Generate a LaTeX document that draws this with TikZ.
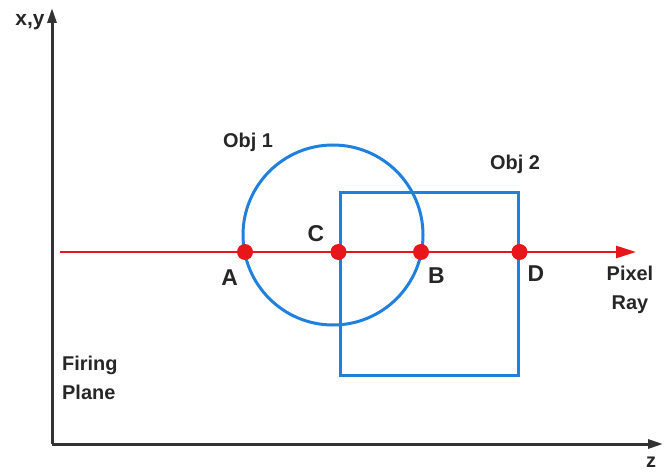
\documentclass[tikz,border=0pt]{standalone}
\usepackage{fontspec}
\setmainfont{Liberation Sans}
\usetikzlibrary{arrows.meta,positioning}

\definecolor{rayred}{RGB}{232,22,26}
\definecolor{objblue}{RGB}{32,128,222}

\begin{document}
\begin{tikzpicture}[
    x=1bp, y=-1bp,
    lbl/.style={font=\fontsize{20}{29}\selectfont\bfseries, text=black!85, align=left, inner sep=0pt},
    ptlbl/.style={font=\fontsize{23}{24}\selectfont\bfseries, text=black!85, inner sep=0pt},
    hit/.style={circle, fill=rayred, inner sep=0pt, minimum size=16bp},
    axis/.style={line width=3bp, draw=black!80, -{Triangle[length=15bp,width=9bp]}},
    ray/.style={line width=2.6bp, draw=rayred, -{Triangle[length=20bp,width=12bp]}},
    obj/.style={line width=3bp, draw=objblue, inner sep=0pt},
]
\useasboundingbox (0,0) rectangle (664,472);

% Axes
\coordinate (o) at (52,444);
\coordinate (ytip) at (52,8);
\coordinate (ztip) at (663,444);
\draw[axis] (o) -- (ytip);
\draw[axis] (o) -- (ztip);
\node[ptlbl, font=\fontsize{21}{24}\selectfont\bfseries] (xy) at (30,22) {x,y};
\node[ptlbl, font=\fontsize{20}{24}\selectfont\bfseries] (z) at (651,462) {z};

% Objects
\node[obj, circle, minimum size=180bp] (obj1) at (333,235) {};
\node[obj, rectangle, minimum width=178bp, minimum height=182bp] (obj2) at (429,284) {};
\node[lbl] (obj1lbl) at (248,142) {Obj 1};
\node[lbl] (obj2lbl) at (515,164) {Obj 2};

% Pixel ray
\coordinate (rs) at (60,252);
\coordinate (re) at (636,252);
\draw[ray] (rs) -- (re);

% Hit points
\node[hit] (a) at (245,252) {};
\node[hit] (c) at (obj2.west |- rs) {};
\node[hit] (b) at (421,252) {};
\node[hit] (d) at (obj2.east |- rs) {};

\node[ptlbl, below left=12bp and 1bp of a] (alab) {A};
\node[ptlbl, below right=10bp and 1bp of b] (blab) {B};
\node[ptlbl, left=6bp of c, yshift=18bp] (clab) {C};
\node[ptlbl, below right=8bp and 2bp of d] (dlab) {D};

% Annotations
\node[lbl, align=center, below=14bp of re, xshift=-6bp] (pixray) {Pixel\\Ray};
\node[lbl, anchor=north west] (firing) at (62,356) {Firing\\Plane};

\end{tikzpicture}
\end{document}
